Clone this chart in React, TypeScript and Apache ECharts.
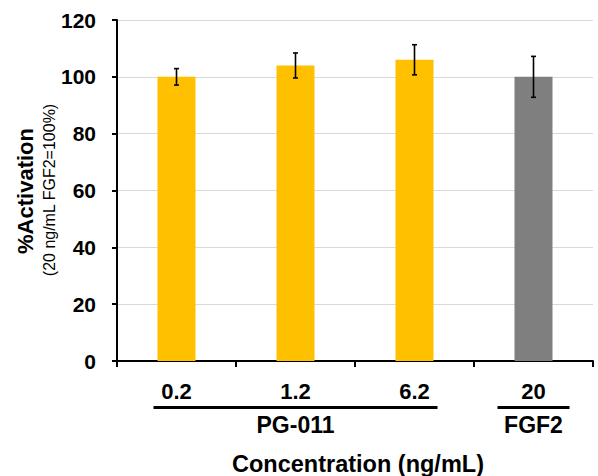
import React, { useEffect, useRef } from "react";
import * as echarts from "echarts";

const categories = ["0.2", "1.2", "6.2", "20"];
const meanValues = [100, 104, 106, 100];
const sdValues = [2.9, 4.4, 5.3, 7.2];
const groupNames = ["PG-011", "FGF2"];
const groupStart = [0, 3];
const groupEnd = [2, 3];
const yTicks = { min: 0, max: 120, interval: 20 };

const FONT = "'Liberation Sans', Arial, sans-serif";
const groupColors = ["#FFC000", "#7F7F7F"];
const groupPad = [23, 36];

function groupOf(i: number) {
  for (let g = 0; g < groupNames.length; g++) {
    if (i >= groupStart[g] && i <= groupEnd[g]) return g;
  }
  return 0;
}

export default function App() {
  const ref = useRef<HTMLDivElement>(null);
  useEffect(() => {
    if (!ref.current) return;
    const chart = echarts.init(ref.current, null, { renderer: "svg" });
    const errData = categories.map((c, i) => [i, meanValues[i] - sdValues[i], meanValues[i] + sdValues[i]]);
    chart.setOption({
      animation: false,
      textStyle: { fontFamily: FONT },
      grid: { left: 117, right: 5, top: 20, bottom: 115, containLabel: false },
      xAxis: {
        type: "category",
        data: categories,
        boundaryGap: true,
        axisLine: { lineStyle: { color: "#000", width: 2 } },
        axisTick: { show: true, length: 6, lineStyle: { color: "#000", width: 2 } },
        axisLabel: { color: "#000", fontSize: 22, fontWeight: "bold", margin: 19, fontFamily: FONT },
        splitLine: { show: false },
      },
      yAxis: {
        type: "value",
        min: yTicks.min,
        max: yTicks.max,
        interval: yTicks.interval,
        axisLine: { show: true, lineStyle: { color: "#000", width: 2 } },
        axisTick: { show: true, length: 5, lineStyle: { color: "#000", width: 2 } },
        axisLabel: { color: "#000", fontSize: 21, fontWeight: "bold", margin: 21, fontFamily: FONT },
        splitLine: { show: true, lineStyle: { color: "#D9D9D9", width: 1 } },
      },
      series: [
        {
          type: "bar",
          data: meanValues.map((v, i) => ({ value: v, itemStyle: { color: groupColors[groupOf(i)] } })),
          barWidth: 38,
        },
        {
          type: "custom",
          data: errData,
          z: 10,
          renderItem: (params: any, api: any) => {
            const x = api.coord([api.value(0), 0])[0];
            const lo = api.coord([api.value(0), api.value(1)])[1];
            const hi = api.coord([api.value(0), api.value(2)])[1];
            const cap = 2.5;
            const style = { stroke: "#000", lineWidth: 1.6 };
            return {
              type: "group",
              children: [
                { type: "line", shape: { x1: x, y1: lo, x2: x, y2: hi }, style },
                { type: "line", shape: { x1: x - cap, y1: lo, x2: x + cap, y2: lo }, style },
                { type: "line", shape: { x1: x - cap, y1: hi, x2: x + cap, y2: hi }, style },
              ],
            };
          },
        },
      ],
    });

    const axisY = chart.convertToPixel({ yAxisIndex: 0 }, 0) as number;
    const x0 = chart.convertToPixel({ xAxisIndex: 0 }, categories[0]) as number;
    const xN = chart.convertToPixel({ xAxisIndex: 0 }, categories[categories.length - 1]) as number;
    const graphics: any[] = [];
    groupNames.forEach((name, g) => {
      const a = chart.convertToPixel({ xAxisIndex: 0 }, categories[groupStart[g]]) as number;
      const b = chart.convertToPixel({ xAxisIndex: 0 }, categories[groupEnd[g]]) as number;
      graphics.push({
        type: "rect",
        shape: { x: a - groupPad[g], y: axisY + 45, width: b - a + 2 * groupPad[g], height: 3 },
        style: { fill: "#000" },
      });
      graphics.push({
        type: "text",
        x: (a + b) / 2,
        y: axisY + 64,
        style: {
          text: name,
          fill: "#000",
          font: `bold 23px ${FONT}`,
          align: "center",
          verticalAlign: "middle",
        },
      });
    });
    graphics.push({
      type: "text",
      x: (x0 + xN) / 2 + 3,
      y: axisY + 103,
      style: {
        text: "Concentration (ng/mL)",
        fill: "#000",
        font: `bold 23.5px ${FONT}`,
        align: "center",
        verticalAlign: "middle",
      },
    });
    graphics.push({
      type: "text",
      x: 25,
      y: 191,
      rotation: Math.PI / 2,
      style: {
        text: "%Activation",
        fill: "#000",
        font: `bold 22px ${FONT}`,
        align: "center",
        verticalAlign: "middle",
      },
    });
    graphics.push({
      type: "text",
      x: 49,
      y: 190,
      rotation: Math.PI / 2,
      style: {
        text: "(20 ng/mL FGF2=100%)",
        fill: "#000",
        font: `16px ${FONT}`,
        align: "center",
        verticalAlign: "middle",
      },
    });
    chart.setOption({ graphic: graphics });

    return () => chart.dispose();
  }, []);
  return (
    <div
      ref={ref}
      style={{ position: "fixed", left: 0, top: 0, width: 598, height: 476, background: "#fff" }}
    />
  );
}
